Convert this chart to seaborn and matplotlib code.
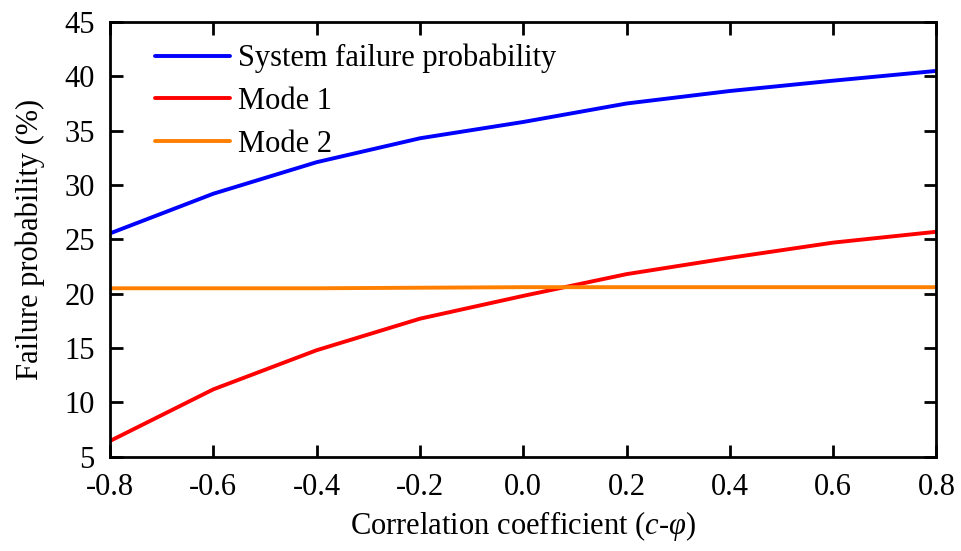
import matplotlib
matplotlib.use("Agg")
import matplotlib.pyplot as plt
import seaborn as sns
import pandas as pd

# ---- data ----
corr = [-0.8, -0.6, -0.4, -0.2, 0.0, 0.2, 0.4, 0.6, 0.8]
system_pf = [25.55, 29.2, 32.1, 34.3, 35.8, 37.5, 38.65, 39.6, 40.5]
mode1_pf = [6.45, 11.2, 14.8, 17.7, 19.8, 21.8, 23.3, 24.7, 25.7]
mode2_pf = [20.5, 20.5, 20.5, 20.55, 20.6, 20.6, 20.6, 20.6, 20.6]
series_names = ["System failure probability", "Mode 1", "Mode 2"]
x_ticks = [-0.8, -0.6, -0.4, -0.2, 0.0, 0.2, 0.4, 0.6, 0.8]
y_ticks = [5, 10, 15, 20, 25, 30, 35, 40, 45]

df = pd.DataFrame({
    "corr": corr * 3,
    "pf": system_pf + mode1_pf + mode2_pf,
    "series": [series_names[0]] * 9 + [series_names[1]] * 9 + [series_names[2]] * 9,
})

sns.set_theme(style="ticks")
plt.rcParams["font.family"] = ["Liberation Serif", "DejaVu Serif"]
plt.rcParams["mathtext.fontset"] = "custom"
plt.rcParams["mathtext.rm"] = "Liberation Serif"
plt.rcParams["mathtext.it"] = "Liberation Serif:italic"
plt.rcParams["text.color"] = "black"
plt.rcParams["axes.labelcolor"] = "black"
plt.rcParams["xtick.color"] = "black"
plt.rcParams["ytick.color"] = "black"

FS = 22

fig = plt.figure(figsize=(9.61, 5.51), dpi=100)
ax = fig.add_axes([0.1145, 0.1711, 0.86, 0.789])

palette = {series_names[0]: "#0000FF", series_names[1]: "#FF0000", series_names[2]: "#FF8000"}
sns.lineplot(data=df, x="corr", y="pf", hue="series", palette=palette,
             linewidth=2.8, ax=ax, hue_order=series_names)

ax.set_xlim(-0.8, 0.8)
ax.set_ylim(5, 45)
ax.set_xticks(x_ticks)
ax.set_xticklabels([f"{v:.1f}" for v in x_ticks])
ax.set_yticks(y_ticks)
ax.set_yticklabels([str(v) for v in y_ticks])

for s in ax.spines.values():
    s.set_linewidth(2.0)
    s.set_color("black")
    s.set_visible(True)

ax.tick_params(direction="in", length=9, width=2, top=True, right=True,
               labelsize=FS, colors="black", labelcolor="black")
ax.tick_params(axis="x", pad=12)
ax.tick_params(axis="y", pad=11)
ax.set_xlabel(r"Correlation coefficient ($c$-$\varphi$)", fontsize=FS, labelpad=5,
              color="black")
ax.set_ylabel("Failure probability (%)", fontsize=FS, labelpad=14, color="black")

leg = ax.legend(loc="upper left", bbox_to_anchor=(0.054, 0.95), frameon=False,
                fontsize=FS, handlelength=2.45, handletextpad=0.28,
                labelspacing=0.45, borderpad=0, borderaxespad=0)
for line in leg.get_lines():
    line.set_linewidth(2.8)
for t in leg.get_texts():
    t.set_color("black")

fig.savefig("out.png", dpi=100)
